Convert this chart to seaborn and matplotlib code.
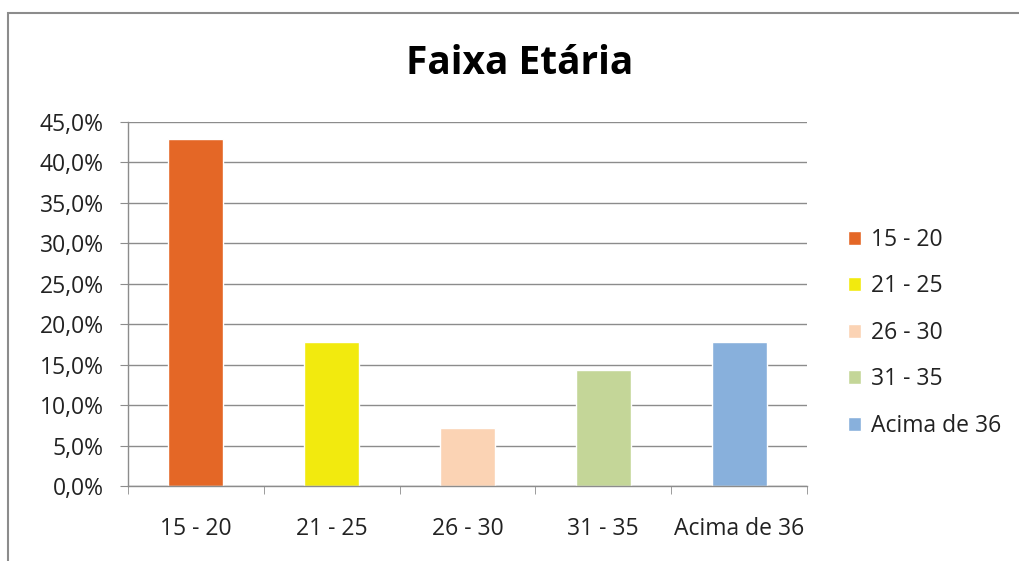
import pandas as pd
import seaborn as sns
import matplotlib.pyplot as plt
import numpy as np
from matplotlib.patches import Rectangle
from matplotlib.ticker import FuncFormatter, FixedLocator

faixas = ['15 - 20', '21 - 25', '26 - 30', '31 - 35', 'Acima de 36']
percentuais = [42.86, 17.86, 7.14, 14.29, 17.86]
cores = ['#E46726', '#F2EA0E', '#FBD3B4', '#C4D698', '#88B0DC']
y_ticks = [0, 5, 10, 15, 20, 25, 30, 35, 40, 45]

df = pd.DataFrame({'faixa': faixas, 'pct': percentuais})

sns.set_style('white')
plt.rcParams['font.family'] = ['Open Sans', 'DejaVu Sans']

fig = plt.figure(figsize=(10.2, 5.61), dpi=100)
ax = fig.add_axes([128 / 1020, 1 - 486 / 561, (807 - 128) / 1020, (486 - 122) / 561])

sns.barplot(data=df, x='faixa', y='pct', hue='faixa', palette=cores,
            width=0.405, dodge=False, legend=True, ax=ax, saturation=1)

ax.set_ylim(0, 45)
ax.set_xlim(-0.5, 4.5)
ax.yaxis.set_major_locator(FixedLocator(y_ticks))
ax.yaxis.set_major_formatter(FuncFormatter(lambda v, p: f'{v:.1f}%'.replace('.', ',')))
ax.grid(axis='y', color='#8c8c8c', linewidth=1)
ax.set_axisbelow(True)
ax.set_xlabel('')
ax.set_ylabel('')

for s in ['top', 'right']:
    ax.spines[s].set_visible(False)
for s in ['left', 'bottom']:
    ax.spines[s].set_color('#8c8c8c')
    ax.spines[s].set_linewidth(1)

ax.tick_params(axis='y', which='major', length=6, color='#8c8c8c', direction='out',
               labelsize=16.5, labelcolor='#222222', left=True, pad=11.5)
ax.tick_params(axis='x', which='major', length=0, labelsize=16.5, labelcolor='#222222', pad=22)
ax.xaxis.set_minor_locator(FixedLocator(np.arange(-0.5, 5, 1)))
ax.tick_params(axis='x', which='minor', length=6, color='#8c8c8c', direction='out', bottom=True)

leg = ax.legend(loc='center left', bbox_to_anchor=(1.03, 0.421), frameon=False,
                fontsize=16.5, handlelength=0.57, handleheight=0.57,
                handletextpad=0.45, labelspacing=0.98)
for t in leg.get_texts():
    t.set_color('#222222')

fig.text(520 / 1020, 1 - 63 / 561, 'Faixa Etária', ha='center', va='center',
         fontsize=28, fontweight='bold', color='#000000')

fig.patches.append(Rectangle((8 / 1020, -0.1), 1.2, 1 - 13 / 561 + 0.1,
                             transform=fig.transFigure, fill=False,
                             edgecolor='#8c8c8c', linewidth=1.5))

fig.savefig('out.png', dpi=100)
